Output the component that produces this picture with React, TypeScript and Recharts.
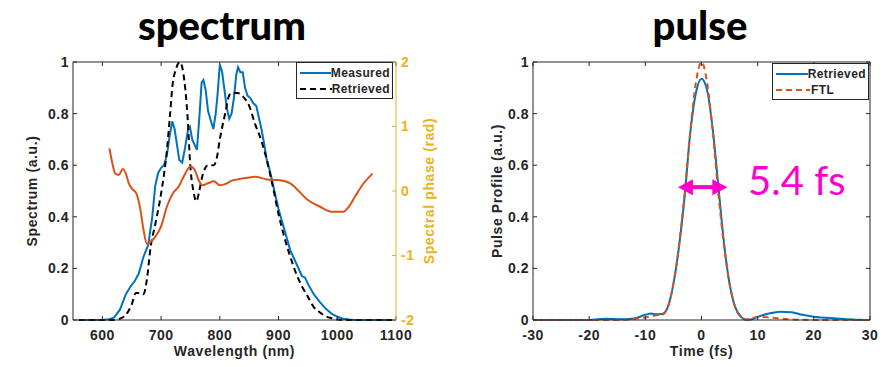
import { Legend, Line, LineChart, ReferenceDot, ReferenceLine, XAxis, YAxis } from "recharts";

// spectrum (left panel)
const measuredNm = [560, 600, 612, 620, 630, 640, 648, 655, 662, 670, 678, 685, 690, 695, 700, 705, 710, 715, 719, 723, 727, 731, 736, 741, 746, 749, 753, 757, 761, 765, 769, 772, 776, 780, 785, 789, 793, 796, 800, 804, 808, 812, 816, 820, 824, 828, 831, 835, 839, 843, 847, 852, 857, 862, 866, 870, 875, 880, 885, 890, 895, 900, 910, 920, 930, 940, 945, 950, 960, 970, 980, 990, 1000, 1010, 1020, 1030, 1100];
const measuredVal = [0, 0, 0.003, 0.01, 0.04, 0.1, 0.13, 0.15, 0.18, 0.245, 0.29, 0.4, 0.52, 0.57, 0.59, 0.6, 0.64, 0.72, 0.77, 0.74, 0.68, 0.62, 0.61, 0.67, 0.74, 0.75, 0.7, 0.68, 0.66, 0.78, 0.92, 0.93, 0.89, 0.81, 0.77, 0.74, 0.8, 0.87, 0.99, 0.96, 0.89, 0.82, 0.78, 0.8, 0.86, 0.95, 0.98, 0.96, 0.96, 0.9, 0.87, 0.86, 0.84, 0.83, 0.79, 0.75, 0.69, 0.62, 0.58, 0.53, 0.48, 0.43, 0.35, 0.27, 0.22, 0.17, 0.165, 0.14, 0.1, 0.07, 0.045, 0.025, 0.013, 0.005, 0.002, 0, 0];

const retrievedNm = [560, 620, 630, 640, 650, 657, 665, 670, 676, 682, 690, 700, 710, 715, 720, 725, 732, 738, 745, 750, 755, 760, 765, 770, 780, 790, 795, 800, 810, 815, 820, 830, 840, 850, 860, 870, 880, 890, 900, 910, 920, 930, 940, 950, 960, 970, 980, 990, 1000, 1010, 1100];
const retrievedVal = [0, 0, 0.005, 0.02, 0.06, 0.105, 0.105, 0.1, 0.16, 0.28, 0.37, 0.49, 0.66, 0.79, 0.92, 0.97, 1.0, 0.955, 0.79, 0.59, 0.5, 0.46, 0.5, 0.555, 0.6, 0.6, 0.63, 0.7, 0.81, 0.865, 0.88, 0.88, 0.865, 0.83, 0.76, 0.7, 0.62, 0.52, 0.41, 0.32, 0.245, 0.18, 0.13, 0.09, 0.05, 0.03, 0.015, 0.007, 0.002, 0, 0];

const phaseNm = [612, 617, 622, 628, 635, 640, 645, 650, 658, 665, 670, 676, 682, 690, 700, 710, 720, 730, 740, 750, 757, 765, 770, 780, 790, 800, 810, 820, 830, 850, 860, 880, 900, 920, 930, 950, 970, 990, 1010, 1020, 1030, 1045, 1060];
const phaseRad = [0.66, 0.43, 0.27, 0.25, 0.34, 0.27, 0.12, 0.04, -0.04, -0.3, -0.6, -0.82, -0.79, -0.71, -0.55, -0.24, -0.04, 0.07, 0.25, 0.38, 0.33, 0.15, 0.09, 0.12, 0.15, 0.09, 0.11, 0.16, 0.18, 0.21, 0.22, 0.18, 0.17, 0.12, 0.04, -0.14, -0.24, -0.32, -0.32, -0.24, -0.09, 0.12, 0.27];

const wlDomain = [550, 1100];
const wlTicks = [600, 700, 800, 900, 1000, 1100];
const specDomain = [0, 1];
const specTicks = [0, 0.2, 0.4, 0.6, 0.8, 1];
const phaseTicks = [-2, -1, 0, 1, 2];

// pulse (right panel)
const pulseFs = [-30, -20, -17, -14, -12, -10, -9, -8, -7, -6, -5, -4, -3, -2, -1, 0, 1, 2, 3, 4, 5, 6, 7, 8, 9, 10, 12, 14, 16, 18, 20, 24, 27, 30];
const pulseVal = [0, 0, 0.005, 0.003, 0.006, 0.02, 0.025, 0.022, 0.023, 0.05, 0.14, 0.285, 0.48, 0.725, 0.88, 0.935, 0.89, 0.74, 0.52, 0.3, 0.14, 0.05, 0.013, 0, 0.003, 0.012, 0.025, 0.032, 0.03, 0.02, 0.013, 0.006, 0.002, 0];

const ftlFs = [-30, -15, -12, -10, -8, -7, -6, -5, -4, -3, -2, -1, 0, 1, 2, 3, 4, 5, 6, 7, 8, 9, 10, 12, 15, 20, 30];
const ftlVal = [0, 0, 0.004, 0.01, 0.018, 0.02, 0.05, 0.14, 0.29, 0.49, 0.73, 0.92, 1.0, 0.92, 0.73, 0.49, 0.29, 0.14, 0.05, 0.012, 0.002, 0.008, 0.012, 0.01, 0.004, 0, 0];

const timeDomain = [-30, 30];
const timeTicks = [-30, -20, -10, 0, 10, 20, 30];
const fwhmFs = [-4.2, 4.6];
const fwhmLevel = 0.515;
const fwhmText = "5.4 fs";

const zip = (xs: number[], ys: number[]) => xs.map((x, i) => ({ x, y: ys[i] }));

const BLUE = "#0072BD";
const RED = "#D95319";
const GOLD = "#EDB120";
const INK = "#262626";
const ARIAL = '"Liberation Sans", Arial, sans-serif';

const tickStyle = { fill: INK, fontSize: 14, fontWeight: 700, fontFamily: ARIAL, letterSpacing: 0.5 };
const labelStyle = { fill: INK, fontSize: 14, fontWeight: 700, fontFamily: ARIAL, letterSpacing: 0.6 };
const fmt = (v: number) => String(v);

// MATLAB "box on": top edge (and optionally right edge) with inward ticks.
// The shape gets the pixel ends of an inner reference segment and maps values
// linearly from them, so everything stays on the chart's own scales.
function makeFrame(
  a: { x: number; y: number },
  b: { x: number; y: number },
  xDom: number[],
  yDom: number[],
  topTicks: number[],
  rightTicks?: number[],
) {
  return (p: any) => {
    const kx = (p.x2 - p.x1) / (b.x - a.x);
    const ky = (p.y2 - p.y1) / (b.y - a.y);
    const px = (v: number) => p.x1 + (v - a.x) * kx;
    const py = (v: number) => p.y1 + (v - a.y) * ky;
    const top = py(yDom[1]);
    const bottom = py(yDom[0]);
    const left = px(xDom[0]);
    const right = px(xDom[1]);
    return (
      <g stroke={INK} strokeWidth={1} fill="none">
        <line x1={left} y1={top} x2={right} y2={top} />
        {topTicks.map((t) => (
          <line key={`t${t}`} x1={px(t)} y1={top} x2={px(t)} y2={top + 4} />
        ))}
        {rightTicks && <line x1={right} y1={top} x2={right} y2={bottom} />}
        {rightTicks &&
          rightTicks.map((t) => <line key={`r${t}`} x1={right} y1={py(t)} x2={right - 4} y2={py(t)} />)}
      </g>
    );
  };
}

const specA = { x: 600, y: 0.2 };
const specB = { x: 1000, y: 0.8 };
const specFrame = makeFrame(specA, specB, wlDomain, specDomain, wlTicks);
const pulseA = { x: -20, y: 0.2 };
const pulseB = { x: 20, y: 0.8 };
const pulseFrame = makeFrame(pulseA, pulseB, timeDomain, specDomain, timeTicks, specTicks);

function LegendBox({ items }: { items: { label: string; color: string; dash?: string }[] }) {
  return (
    <div
      style={{
        width: 97,
        height: 37,
        boxSizing: "border-box",
        border: `1px solid ${INK}`,
        background: "#fff",
        padding: "2px 2px",
      }}
    >
      {items.map((it) => (
        <div key={it.label} style={{ display: "flex", alignItems: "center", height: 16 }}>
          <svg width={36} height={6}>
            <line x1={1} y1={3} x2={35} y2={3} stroke={it.color} strokeWidth={2} strokeDasharray={it.dash} />
          </svg>
          <span style={{ fontFamily: ARIAL, fontSize: 12, fontWeight: 700, color: INK, letterSpacing: 0.4 }}>
            {it.label}
          </span>
        </div>
      ))}
    </div>
  );
}

const titleStyle = {
  position: "absolute" as const,
  top: 0,
  fontFamily: "Lato, sans-serif",
  fontWeight: 900,
  fontSize: 40,
  lineHeight: 1.25,
  color: "#000",
  textAlign: "center" as const,
  width: 300,
};

function Arrow(props: any) {
  const { x1, y1, x2 } = props;
  const head = 15;
  const hh = 8;
  return (
    <g fill="#FF00CC" stroke="none">
      <rect x={x1 + head - 1} y={y1 - 2} width={x2 - x1 - 2 * head + 2} height={4} />
      <polygon points={`${x1},${y1} ${x1 + head},${y1 - hh} ${x1 + head},${y1 + hh}`} />
      <polygon points={`${x2},${y1} ${x2 - head},${y1 - hh} ${x2 - head},${y1 + hh}`} />
    </g>
  );
}

export default function App() {
  return (
    <div style={{ position: "absolute", left: 0, top: 0, width: 888, height: 367, background: "#fff" }}>
      <div style={{ ...titleStyle, left: 72 }}>spectrum</div>
      <div style={{ ...titleStyle, left: 550 }}>pulse</div>

      <div style={{ position: "absolute", left: 0, top: 0 }}>
        <LineChart width={444} height={367} margin={{ top: 62, right: 0, bottom: 0, left: 0 }}>
          <XAxis
            xAxisId="b"
            type="number"
            dataKey="x"
            domain={wlDomain}
            ticks={wlTicks}
            allowDataOverflow
            height={47}
            stroke={INK}
            tickSize={-4}
            tickMargin={14}
            tick={tickStyle}
            tickFormatter={fmt}
            label={{ value: "Wavelength (nm)", position: "center", dy: 8, style: labelStyle }}
          />
          <YAxis
            yAxisId="l"
            type="number"
            domain={specDomain}
            ticks={specTicks}
            width={73}
            stroke={INK}
            tickSize={-4}
            tickMargin={8}
            tick={tickStyle}
            tickFormatter={fmt}
            label={{ value: "Spectrum (a.u.)", angle: -90, position: "center", dx: -4, style: labelStyle }}
          />
          <YAxis
            yAxisId="p"
            orientation="right"
            type="number"
            domain={[-2, 2]}
            ticks={phaseTicks}
            width={48}
            stroke={GOLD}
            tickSize={-4}
            tickMargin={9}
            tick={{ ...tickStyle, fill: GOLD }}
            tickFormatter={fmt}
            label={{
              value: "Spectral phase (rad)",
              angle: -90,
              position: "center",
              dx: 9,
              style: { ...labelStyle, fill: GOLD },
            }}
          />
          <ReferenceLine
            xAxisId="b"
            yAxisId="l"
            segment={[specA, specB]}
            ifOverflow="visible"
            shape={specFrame}
          />
          <Line
            xAxisId="b"
            yAxisId="l"
            data={zip(measuredNm, measuredVal)}
            dataKey="y"
            type="linear"
            stroke={BLUE}
            strokeWidth={2}
            dot={false}
            isAnimationActive={false}
          />
          <Line
            xAxisId="b"
            yAxisId="l"
            data={zip(retrievedNm, retrievedVal)}
            dataKey="y"
            type="monotone"
            stroke="#000"
            strokeWidth={2}
            strokeDasharray="6 4"
            dot={false}
            isAnimationActive={false}
          />
          <Line
            xAxisId="b"
            yAxisId="p"
            data={zip(phaseNm, phaseRad)}
            dataKey="y"
            type="monotone"
            stroke={RED}
            strokeWidth={2}
            dot={false}
            isAnimationActive={false}
          />
          <Legend
            layout="vertical"
            align="center"
            verticalAlign="middle"
            wrapperStyle={{ left: 296, top: 62, width: 97, height: 37 }}
            content={() => (
              <LegendBox
                items={[
                  { label: "Measured", color: BLUE },
                  { label: "Retrieved", color: "#000", dash: "6 4" },
                ]}
              />
            )}
          />
        </LineChart>
      </div>

      <div style={{ position: "absolute", left: 444, top: 0 }}>
        <LineChart width={444} height={367} margin={{ top: 62, right: 18, bottom: 0, left: 0 }}>
          <XAxis
            xAxisId="b"
            type="number"
            dataKey="x"
            domain={timeDomain}
            ticks={timeTicks}
            allowDataOverflow
            height={47}
            stroke={INK}
            tickSize={-4}
            tickMargin={14}
            tick={tickStyle}
            tickFormatter={fmt}
            label={{ value: "Time (fs)", position: "center", dy: 8, style: labelStyle }}
          />
          <YAxis
            yAxisId="l"
            type="number"
            domain={specDomain}
            ticks={specTicks}
            width={89}
            stroke={INK}
            tickSize={-4}
            tickMargin={8}
            tick={tickStyle}
            tickFormatter={fmt}
            label={{ value: "Pulse Profile (a.u.)", angle: -90, position: "center", dx: 9, style: labelStyle }}
          />
          <ReferenceLine
            xAxisId="b"
            yAxisId="l"
            segment={[pulseA, pulseB]}
            ifOverflow="visible"
            shape={pulseFrame}
          />
          <Line
            xAxisId="b"
            yAxisId="l"
            data={zip(pulseFs, pulseVal)}
            dataKey="y"
            type="monotone"
            stroke={BLUE}
            strokeWidth={2}
            dot={false}
            isAnimationActive={false}
          />
          <Line
            xAxisId="b"
            yAxisId="l"
            data={zip(ftlFs, ftlVal)}
            dataKey="y"
            type="monotone"
            stroke={RED}
            strokeWidth={2}
            strokeDasharray="6 4"
            dot={false}
            isAnimationActive={false}
          />
          <ReferenceLine
            xAxisId="b"
            yAxisId="l"
            segment={[
              { x: fwhmFs[0], y: fwhmLevel },
              { x: fwhmFs[1], y: fwhmLevel },
            ]}
            shape={Arrow}
          />
          <ReferenceDot
            xAxisId="b"
            yAxisId="l"
            x={8.3}
            y={fwhmLevel}
            r={0}
            shape={(p: any) => (
              <text x={p.cx} y={p.cy + 8} fill="#FF00CC" fontFamily="Lato, sans-serif" fontSize={40}>
                {fwhmText}
              </text>
            )}
          />
          <Legend
            layout="vertical"
            align="center"
            verticalAlign="middle"
            wrapperStyle={{ left: 328, top: 63, width: 97, height: 37 }}
            content={() => (
              <LegendBox
                items={[
                  { label: "Retrieved", color: BLUE },
                  { label: "FTL", color: RED, dash: "6 4" },
                ]}
              />
            )}
          />
        </LineChart>
      </div>
    </div>
  );
}
